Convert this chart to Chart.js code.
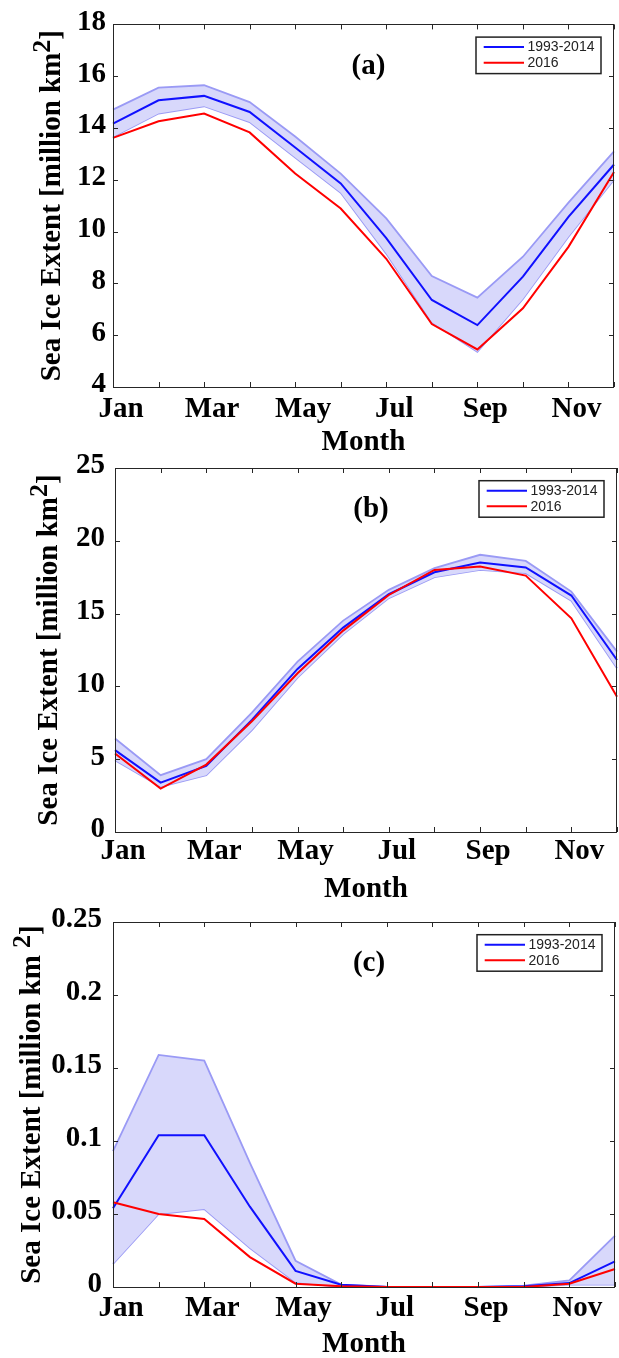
<!DOCTYPE html>
<html><head><meta charset="utf-8">
<script src="https://cdn.jsdelivr.net/npm/chart.js@4.4.0/dist/chart.umd.min.js"></script>
<style>
html,body{margin:0;padding:0;background:#fff;}
body{width:619px;height:1358px;position:relative;overflow:hidden;}
canvas{position:absolute;left:0;}
</style></head><body>
<canvas id="ca" width="619" height="465" style="top:0px"></canvas>
<canvas id="cb" width="619" height="470" style="top:440px"></canvas>
<canvas id="cc" width="619" height="475" style="top:890px"></canvas>
<script>
// ---------- data ----------
const months = ['Jan','Feb','Mar','Apr','May','Jun','Jul','Aug','Sep','Oct','Nov','Dec'];
const xTickLabels = ['Jan','','Mar','','May','','Jul','','Sep','','Nov',''];
const seriesNames = ['1993-2014','2016'];
const xTitle = 'Month';
const panelLabels = ['(a)','(b)','(c)'];
const yTitleAB = ['Sea Ice Extent [million km','2',']'];
const yTitleC  = ['Sea Ice Extent [million km ','2',']'];

// panel (a)
const meanA  = [14.17, 15.07, 15.24, 14.62, 13.25, 11.86, 9.75, 7.36, 6.39, 8.26, 10.57, 12.59];
const upperA = [14.71, 15.56, 15.65, 15.00, 13.67, 12.24, 10.51, 8.28, 7.45, 9.03, 11.12, 13.10];
const lowerA = [13.65, 14.56, 14.84, 14.23, 12.86, 11.50, 9.15, 6.50, 5.36, 7.40, 9.80, 12.00];
const y2016A = [13.62, 14.26, 14.56, 13.83, 12.24, 10.89, 8.95, 6.43, 5.45, 7.04, 9.41, 12.30];
const yTicksA = [4, 6, 8, 10, 12, 14, 16, 18];
const yTickLabelsA = ['4','6','8','10','12','14','16','18'];

// panel (b)
const meanB  = [5.62, 3.39, 4.54, 7.70, 11.20, 14.04, 16.33, 17.84, 18.51, 18.17, 16.24, 11.81];
const upperB = [6.42, 3.90, 5.00, 8.20, 11.70, 14.52, 16.63, 18.12, 19.04, 18.62, 16.51, 12.39];
const lowerB = [4.93, 3.10, 3.90, 7.00, 10.60, 13.60, 16.06, 17.50, 18.00, 17.78, 15.89, 11.24];
const y2016B = [5.39, 2.98, 4.63, 7.60, 10.90, 13.83, 16.28, 18.00, 18.23, 17.61, 14.68, 9.29];
const yTicksB = [0, 5, 10, 15, 20, 25];
const yTickLabelsB = ['0','5','10','15','20','25'];

// panel (c)
const meanC  = [0.054, 0.104, 0.104, 0.055, 0.011, 0.0016, 0, 0, 0, 0.0005, 0.0027, 0.0176];
const upperC = [0.093, 0.159, 0.155, 0.085, 0.018, 0.0016, 0.0003, 0, 0, 0.001, 0.0046, 0.0352];
const lowerC = [0.0158, 0.050, 0.0534, 0.0267, 0.0032, 0, 0, 0, 0, 0, 0.0016, 0.0016];
const y2016C = [0.058, 0.050, 0.0466, 0.0205, 0.0023, 0.0005, 0, 0, 0, 0, 0.0023, 0.0123];
const yTicksC = [0, 0.05, 0.1, 0.15, 0.2, 0.25];
const yTickLabelsC = ['0','0.05','0.1','0.15','0.2','0.25'];

// ---------- style ----------
const SERIF = '"Liberation Serif", "Times New Roman", serif';
const SANS = '"Liberation Sans", Arial, Helvetica, sans-serif';
const FS = 29, LH = 1.2;
const AXC = '#262626';

const framePlugin = {
  id: 'frame',
  afterDatasetsDraw(chart, args, o) {
    const {ctx, chartArea: a} = chart;
    const x = chart.scales.x, y = chart.scales.y;
    ctx.save();
    // box
    ctx.strokeStyle = AXC; ctx.lineWidth = 1;
    ctx.strokeRect(Math.round(a.left)+0.5, Math.round(a.top)+0.5, Math.round(a.right-a.left)-1, Math.round(a.bottom-a.top));
    // inward ticks
    ctx.beginPath();
    x.ticks.forEach((t,i)=>{
      const px = Math.round(x.getPixelForTick(i))+0.5;
      ctx.moveTo(px, a.bottom); ctx.lineTo(px, a.bottom-5);
      ctx.moveTo(px, a.top); ctx.lineTo(px, a.top+5);
    });
    y.ticks.forEach((t,i)=>{
      const py = Math.round(y.getPixelForTick(i))+0.5;
      ctx.moveTo(a.left, py); ctx.lineTo(a.left+5, py);
      ctx.moveTo(a.right, py); ctx.lineTo(a.right-5, py);
    });
    ctx.stroke();
    // panel label
    ctx.fillStyle = '#000';
    ctx.font = 'bold ' + FS + 'px ' + SERIF;
    ctx.textAlign = 'center'; ctx.textBaseline = 'middle';
    ctx.fillText(o.label, a.left + 0.51*(a.right-a.left), a.top + 0.115*(a.bottom-a.top));
    // legend
    const bw = 125, bh = 36.5;
    const bx = a.right - 13 - bw, by = a.top + 12.7;
    ctx.fillStyle = '#fff';
    ctx.fillRect(bx, by, bw, bh);
    ctx.lineWidth = 1.5; ctx.strokeStyle = '#222';
    ctx.strokeRect(bx, by, bw, bh);
    const ds = chart.data.datasets;
    const items = [[ds[1].label, ds[1].borderColor, 10], [ds[0].label, ds[0].borderColor, 25.6]];
    ctx.font = '14px ' + SANS; ctx.textAlign = 'left'; ctx.textBaseline = 'middle';
    items.forEach(([t,c,dy])=>{
      ctx.strokeStyle = c; ctx.lineWidth = 2;
      ctx.beginPath(); ctx.moveTo(bx+7.7, by+dy); ctx.lineTo(bx+48, by+dy); ctx.stroke();
      ctx.fillStyle = '#222';
      ctx.fillText(t, bx+51.5, by+dy+0.5);
    });
    // y title with superscript
    const parts = o.yTitle;
    const fMain = 'bold ' + FS + 'px ' + SERIF;
    const fSup = 'bold 26px ' + SERIF;
    ctx.font = fMain; const w1 = ctx.measureText(parts[0]).width, w3 = ctx.measureText(parts[2]).width;
    ctx.font = fSup; const w2 = ctx.measureText(parts[1]).width;
    const total = w1 + w2 + w3;
    const cy = (a.top + a.bottom)/2;
    ctx.translate(o.yTitleX, cy);
    ctx.rotate(-Math.PI/2);
    ctx.fillStyle = '#000';
    ctx.textAlign = 'left'; ctx.textBaseline = 'alphabetic';
    let s = -total/2;
    ctx.font = fMain; ctx.fillText(parts[0], s, 0); s += w1;
    ctx.font = fSup; ctx.fillText(parts[1], s, -10); s += w2;
    ctx.font = fMain; ctx.fillText(parts[2], s, 0);
    ctx.restore();
  }
};

function makePanel(id, d, L) {
  const canvas = document.getElementById(id);
  const H = canvas.height;
  const font = {family: SERIF, size: FS, weight: 'bold', lineHeight: LH};
  new Chart(canvas, {
    type: 'line',
    data: {
      labels: months,
      datasets: [
        {label: seriesNames[1], data: d.y2016, borderColor: '#ff0000', borderWidth: 2, pointRadius: 0, fill: false, tension: 0},
        {label: seriesNames[0], data: d.mean, borderColor: '#1010ff', borderWidth: 2, pointRadius: 0, fill: false, tension: 0},
        {label: 'upper', data: d.upper, borderColor: '#9a9af5', borderWidth: 1.8, pointRadius: 0, fill: '+1', backgroundColor: '#d8d8fb', tension: 0},
        {label: 'lower', data: d.lower, borderColor: '#9a9af5', borderWidth: 1.8, pointRadius: 0, fill: false, tension: 0}
      ]
    },
    options: {
      responsive: false, animation: false, devicePixelRatio: 1,
      layout: {padding: {top: L.top, left: 0, right: L.right, bottom: 0}},
      plugins: {
        legend: {display: false}, tooltip: {enabled: false},
        frame: {label: d.label, yTitle: d.yTitle, yTitleX: L.yTitleX}
      },
      scales: {
        x: {
          type: 'category', offset: false,
          grid: {display: false, drawTicks: false}, border: {display: false},
          ticks: {autoSkip: false, maxRotation: 0, minRotation: 0, padding: L.xpad, labelOffset: 8,
                  color: '#000', font: font, callback: (v, i) => xTickLabels[i]},
          title: {display: true, text: xTitle, color: '#000', font: font, padding: {top: 0, bottom: L.titlePad}},
          afterFit: (s) => { s.height = L.xh; }
        },
        y: {
          min: d.min, max: d.max,
          grid: {display: false, drawTicks: false}, border: {display: false},
          afterBuildTicks: (s) => { s.ticks = d.ticks.map(v => ({value: v})); },
          ticks: {padding: L.ypad, color: '#000', font: font, labelOffset: -2, callback: (v, i) => d.tickLabels[i]},
          afterFit: (s) => { s.width = L.left; }
        }
      }
    },
    plugins: [framePlugin]
  });
}

// layout (canvas coordinates)
makePanel('ca', {mean: meanA, upper: upperA, lower: lowerA, y2016: y2016A, min: 4, max: 18,
  ticks: yTicksA, tickLabels: yTickLabelsA, label: panelLabels[0], yTitle: yTitleAB},
  {top: 24, right: 1, left: 113, xh: 465-387, xpad: 5, ypad: 7, titlePad: 4.6, yTitleX: 60});
makePanel('cb', {mean: meanB, upper: upperB, lower: lowerB, y2016: y2016B, min: 0, max: 25,
  ticks: yTicksB, tickLabels: yTickLabelsB, label: panelLabels[1], yTitle: yTitleAB},
  {top: 28, right: 0, left: 115, xh: 470-392, xpad: 2, ypad: 10, titlePad: 2.6, yTitleX: 57});
makePanel('cc', {mean: meanC, upper: upperC, lower: lowerC, y2016: y2016C, min: 0, max: 0.25,
  ticks: yTicksC, tickLabels: yTickLabelsC, label: panelLabels[2], yTitle: yTitleC},
  {top: 32, right: 1, left: 113, xh: 475-397, xpad: 4, ypad: 11, titlePad: 2.6, yTitleX: 40});
</script>
</body></html>
